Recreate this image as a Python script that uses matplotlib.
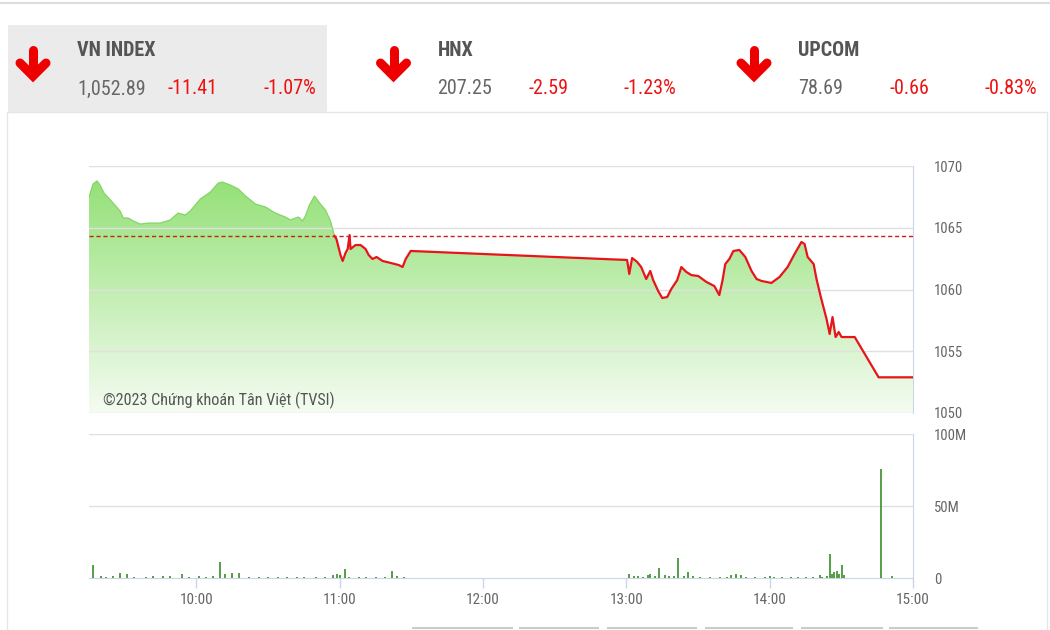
import matplotlib
matplotlib.use("Agg")
import matplotlib.pyplot as plt
import numpy as np
from matplotlib.lines import Line2D
from matplotlib.patches import Rectangle
from matplotlib.colors import LinearSegmentedColormap

plt.rcParams['font.family'] = ['Roboto Condensed', 'Liberation Sans Narrow', 'Roboto', 'DejaVu Sans']

# header boxes
idx_names = ["VN INDEX", "HNX", "UPCOM"]
idx_values = ["1,052.89", "207.25", "78.69"]
idx_changes = ["-11.41", "-2.59", "-0.66"]
idx_pcts = ["-1.07%", "-1.23%", "-0.83%"]

# VN-Index intraday, time in minutes after 09:00
price_min = [15, 16.7, 18.4, 19.6, 21.3, 24.7, 28, 29.3, 31.4, 33.5, 36.4, 39.8, 44.8, 49,
             52.3, 55.3, 57.4, 61.6, 65.8, 69.1, 70.8, 74.2, 77.5, 80.5, 84.7, 88.9, 93,
             97.2, 99.3, 102.7, 104.4, 105.6, 107.3, 109.4, 111.9, 114, 116.1, 117.8,
             118.6, 120.3, 121.2, 122.4, 123.3, 124.1, 124.5, 126.6, 128.7, 130.8, 132.1,
             133.7, 135.4, 137.9, 141.3, 144.7, 146.3, 147.6, 149.7,
             240.3, 241.2, 242.4, 244.5, 246.2, 248.3, 250, 251.2, 253.3, 255, 257.1,
             258.8, 261.3, 263, 265.1, 267.2, 270.1, 273.5, 276.8, 278.9, 280.2, 281.4,
             283.1, 284.8, 287.3, 289.8, 292.4, 294.5, 296.6, 300.7, 304.1, 307.5, 310.4,
             313.3, 314.6, 315.9, 318.4, 319.6, 321.3, 323.8, 325.1, 326.3, 327.6, 328.9,
             330.1, 335.6, 345.6, 360]
price_val = [1067.49, 1068.54, 1068.79, 1068.46, 1067.81, 1067.09, 1066.36, 1065.79, 1065.79,
             1065.55, 1065.30, 1065.38, 1065.38, 1065.63, 1066.19, 1066.03, 1066.36, 1067.33,
             1067.89, 1068.62, 1068.70, 1068.46, 1068.14, 1067.57, 1066.92, 1066.68, 1066.19,
             1065.87, 1065.63, 1065.87, 1065.55, 1065.95, 1066.84, 1067.57, 1066.92, 1066.44,
             1065.55, 1064.33, 1064.09, 1062.79, 1062.31, 1062.96, 1063.28, 1064.41, 1063.28,
             1063.60, 1063.60, 1063.28, 1062.79, 1062.47, 1062.63, 1062.31, 1062.15, 1061.98,
             1061.82, 1062.47, 1063.12,
             1062.39, 1061.26, 1062.55, 1062.23, 1061.82, 1060.85, 1061.50, 1060.77, 1059.88,
             1059.31, 1059.39, 1060.04, 1060.77, 1061.82, 1061.42, 1061.17, 1061.09, 1060.61,
             1060.28, 1059.55, 1060.69, 1062.06, 1062.47, 1063.12, 1063.20, 1062.63, 1061.50,
             1060.85, 1060.69, 1060.53, 1061.01, 1061.82, 1062.87, 1063.85, 1063.68, 1062.63,
             1062.06, 1060.85, 1059.47, 1057.61, 1056.40, 1057.77, 1056.15, 1056.56, 1056.15,
             1056.15, 1052.89, 1052.89]
ref_price = 1064.30

# volume (millions), time in minutes after 09:00
vol_min = [16.5, 20, 22, 25, 28, 31, 34, 39, 42, 46, 49, 54, 57, 61, 64, 67, 70, 72, 75, 78,
           82, 86, 90, 94, 98, 102, 105, 110, 114, 117, 119, 120, 122, 124, 128, 131, 135,
           139, 142, 144, 147,
           241, 243, 245, 247, 249, 250, 252, 253.6, 256, 258, 260, 261.6, 264, 266, 268,
           271, 275, 279, 282, 284, 286, 288, 290, 294, 298, 300, 302, 305, 309, 312, 315,
           318, 321, 322, 324, 325.2, 326, 327, 328, 329, 330.4, 331, 346.6, 351]
vol_val = [9, 1.2, 1.0, 1.2, 3.5, 3.0, 0.8, 1.0, 1.5, 1.2, 1.5, 2.5, 1.0, 1.5, 1.0, 1.5, 11,
           3.0, 3.5, 3.5, 1.0, 1.0, 0.8, 1.0, 0.8, 0.8, 0.8, 0.8, 1.0, 2.0, 2.5, 2.0, 6.0,
           1.0, 0.8, 0.8, 0.8, 0.8, 5.0, 1.5, 1.0,
           3.0, 1.5, 1.5, 1.0, 2.0, 2.5, 1.5, 7, 2.0, 1.5, 1.5, 13.7, 1.5, 4.5, 1.5, 1.0,
           0.8, 0.8, 0.8, 2.0, 2.5, 2.0, 1.0, 0.8, 0.8, 1.5, 0.8, 0.8, 0.8, 1.0, 1.0, 0.8,
           2.0, 1.0, 1.5, 17, 3.0, 4.0, 5.0, 3.0, 9.0, 2.0, 76, 1.5]

hour_ticks = [10, 11, 12, 13, 14, 15]
hour_labels = ["10:00", "11:00", "12:00", "13:00", "14:00", "15:00"]
price_ticks = [1050, 1055, 1060, 1065, 1070]
vol_ticks = [0, 50, 100]
vol_labels = ["0", "50M", "100M"]

W, H = 1050, 630
fig = plt.figure(figsize=(10.5, 6.3), dpi=100)


def fx(px):
    return px / W


def fy(py):
    return 1 - py / H


# ---- page decoration / header
fig.add_artist(Line2D([0, 1], [fy(3), fy(3)], color='#dddddd', lw=1.5))
fig.add_artist(Rectangle((fx(8), fy(112)), fx(327) - fx(8), fy(25) - fy(112),
                         color='#ebebeb', lw=0))
fig.add_artist(Rectangle((fx(7), fy(640)), fx(1047) - fx(7), fy(112) - fy(640),
                         facecolor='none', edgecolor='#e6e6e6', lw=1))
for x0, x1 in [(413, 512), (520, 598), (608, 696), (706, 792), (802, 882), (890, 977)]:
    fig.add_artist(Line2D([fx(x0), fx(x1)], [fy(628), fy(628)], color='#cccccc', lw=1.5))

red = '#ee1111'
for i in range(3):
    off = i * 360.5
    ax0 = 33 + off
    # down arrow
    fig.add_artist(Line2D([fx(ax0), fx(ax0)], [fy(50), fy(74)], color='#ee0000', lw=6.5,
                          solid_capstyle='round'))
    fig.add_artist(Line2D([fx(ax0 - 13), fx(ax0), fx(ax0 + 13)], [fy(63), fy(76), fy(63)],
                          color='#ee0000', lw=6.5, solid_capstyle='round',
                          solid_joinstyle='miter'))
    fig.text(fx(77 + off), fy(51), idx_names[i], fontsize=14.5, fontweight='bold',
             color='#555555', va='center', ha='left')
    fig.text(fx(77 + off), fy(89), idx_values[i], fontsize=14.5, color='#666666',
             va='center', ha='left')
    fig.text(fx(168 + off), fy(89), idx_changes[i], fontsize=14.5, color=red,
             va='center', ha='left')
    fig.text(fx(316 + off), fy(89), idx_pcts[i], fontsize=14.5, color=red,
             va='center', ha='right')

# ---- price chart
ax = fig.add_axes([fx(89), fy(413), fx(913) - fx(89), fy(166) - fy(413)])
px = 9 + np.array(price_min) / 60.0
pv = np.array(price_val)

cmap = LinearSegmentedColormap.from_list('g', ['#f5fcf2', '#8edf70'])
grad = np.linspace(0, 1, 256).reshape(-1, 1)
im = ax.imshow(grad, cmap=cmap, aspect='auto', origin='lower',
               extent=[9.25, 15, 1050, 1070], zorder=1)
poly = ax.fill_between(px, pv, 1050, facecolor='none', lw=0)
im.set_clip_path(poly.get_paths()[0], transform=ax.transData)

k = int(np.argmax(pv < ref_price))
ax.plot(px[:k], pv[:k], color='#86d468', lw=0.9, zorder=3)
ax.plot(px[k - 1:], pv[k - 1:], color='#e8141b', lw=1.6, zorder=4)
ax.axhline(ref_price, color='#c81e1e', lw=1, ls=(0, (3, 2)), zorder=3)

for yv in price_ticks:
    ax.axhline(yv, color='#e0e0e0', lw=1, zorder=2)

ax.set_xlim(9.25, 15)
ax.set_ylim(1050, 1070)
ax.set_xticks([])
ax.yaxis.tick_right()
ax.set_yticks(price_ticks)
ax.tick_params(axis='y', length=0, pad=15, labelsize=10.5, labelcolor='#666666')
for s in ['top', 'left', 'bottom']:
    ax.spines[s].set_visible(False)
ax.spines['right'].set_color('#ccd6eb')
ax.text(0.017, 0.05, "©2023 Chứng khoán Tân Việt (TVSI)", transform=ax.transAxes,
        fontsize=11.6, color='#555555', va='center', ha='left', zorder=5)

# ---- volume chart
vax = fig.add_axes([fx(89), fy(578), fx(913) - fx(89), fy(434) - fy(578)])
vx = 9 + np.array(vol_min) / 60.0
vax.vlines(vx, 0, vol_val, color='#3a8c28', lw=1.2, zorder=3)
for yv in vol_ticks[1:]:
    vax.axhline(yv, color='#e0e0e0', lw=1, zorder=1)
vax.set_xlim(9.25, 15)
vax.set_ylim(0, 100)
vax.yaxis.tick_right()
vax.set_yticks(vol_ticks)
vax.set_yticklabels(vol_labels)
vax.tick_params(axis='y', length=0, pad=15, labelsize=10.5, labelcolor='#666666')
vax.set_xticks(hour_ticks)
vax.set_xticklabels(hour_labels)
vax.tick_params(axis='x', direction='out', length=7, width=1, color='#ccd6eb',
                pad=4, labelsize=11, labelcolor='#666666')
for s in ['top', 'left']:
    vax.spines[s].set_visible(False)
vax.spines['right'].set_color('#ccd6eb')
vax.spines['bottom'].set_color('#ccd6eb')

fig.savefig("out.png", dpi=100)
